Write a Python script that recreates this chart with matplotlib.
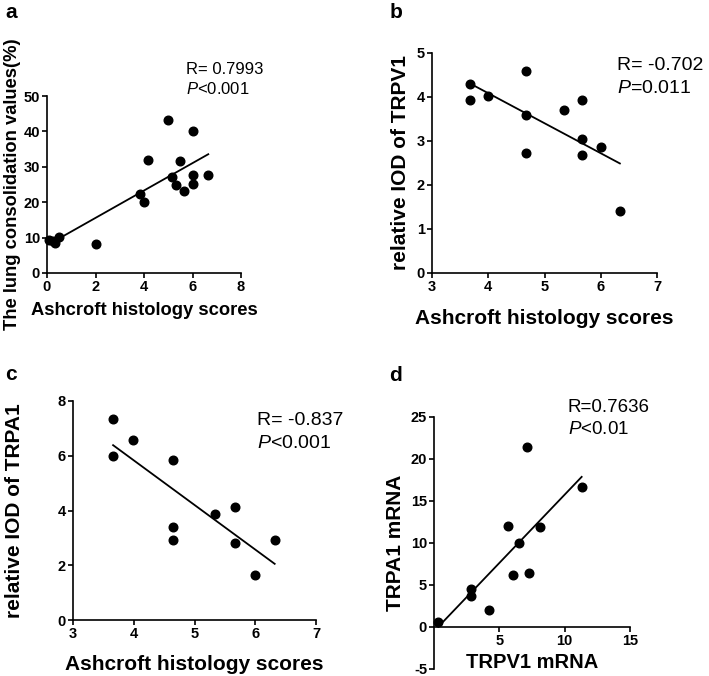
import numpy as np
import matplotlib
matplotlib.use("Agg")
import matplotlib.pyplot as plt

plt.rcParams['font.family'] = ['Liberation Sans', 'DejaVu Sans']
plt.rcParams['mathtext.fontset'] = 'custom'
plt.rcParams['mathtext.rm'] = 'Liberation Sans'
plt.rcParams['mathtext.it'] = 'Liberation Sans:italic'
plt.rcParams['axes.unicode_minus'] = False

# panel a: Ashcroft score vs lung consolidation
a_x = [0.1, 0.25, 0.35, 0.5, 2.0, 3.85, 3.98, 4.15, 4.99, 5.15, 5.32, 5.5, 5.65, 6.0, 6.0, 6.0, 6.65]
a_y = [9.4, 9.0, 8.4, 10.1, 8.3, 22.2, 20.0, 32.0, 43.1, 27.0, 25.0, 31.7, 23.3, 40.0, 27.8, 25.2, 27.6]

# panel b: Ashcroft score vs TRPV1 IOD
b_x = [3.67, 3.67, 4.0, 4.67, 4.67, 4.67, 5.34, 5.67, 5.67, 5.67, 6.0, 6.34]
b_y = [4.30, 3.94, 4.02, 4.58, 3.60, 2.73, 3.70, 3.94, 3.05, 2.69, 2.86, 1.41]

# panel c: Ashcroft score vs TRPA1 IOD
c_x = [3.66, 3.66, 3.99, 4.65, 4.65, 4.65, 5.33, 5.66, 5.66, 5.99, 6.32]
c_y = [7.34, 5.98, 6.59, 5.85, 3.41, 2.94, 3.87, 4.14, 2.81, 1.66, 2.91]

# panel d: TRPV1 vs TRPA1 mRNA
d_x = [0.33, 2.8, 2.86, 4.2, 5.64, 6.05, 6.53, 7.14, 7.27, 8.09, 11.3]
d_y = [0.64, 4.58, 3.70, 2.07, 12.02, 6.21, 9.99, 21.42, 6.37, 11.9, 16.68]

W, H = 709, 676
fig = plt.figure(figsize=(W / 100, H / 100), dpi=100)


def add_ax(x0, x1, ytop, ybot):
    return fig.add_axes([x0 / W, 1 - ybot / H, (x1 - x0) / W, (ybot - ytop) / H])


def style(ax, tick_size=10.5):
    for s in ['top', 'right']:
        ax.spines[s].set_visible(False)
    for s in ['left', 'bottom']:
        ax.spines[s].set_linewidth(1.2)
    ax.tick_params(width=1.2, length=3.5, labelsize=tick_size, pad=1.5)
    for lab in ax.get_xticklabels() + ax.get_yticklabels():
        lab.set_fontweight('bold')


def scatter_fit(ax, x, y):
    ax.plot(x, y, 'o', color='black', ms=6.2, clip_on=False, zorder=3)
    k, b = np.polyfit(x, y, 1)
    xx = np.array([min(x), max(x)])
    ax.plot(xx, k * xx + b, color='black', lw=1.3)


# a
ax = add_ax(47, 241, 96, 273)
scatter_fit(ax, a_x, a_y)
ax.set_xlim(0, 8)
ax.set_ylim(0, 50)
ax.set_xticks([0, 2, 4, 6, 8])
ax.set_yticks([0, 10, 20, 30, 40, 50])
style(ax)
ax.set_xlabel('Ashcroft histology scores', fontsize=13.2, fontweight='bold', labelpad=6)
ax.set_ylabel('The lung consolidation values(%)', fontsize=13.2, fontweight='bold', labelpad=2)
ax.text(5.73, 56.2, 'R= 0.7993', fontsize=12, clip_on=False)
ax.text(5.73, 50.6, r'$\it{P}$<0.001', fontsize=12, clip_on=False)

# b
ax = add_ax(432, 657, 53, 273)
scatter_fit(ax, b_x, b_y)
ax.set_xlim(3, 7)
ax.set_ylim(0, 5)
ax.set_xticks([3, 4, 5, 6, 7])
ax.set_yticks([0, 1, 2, 3, 4, 5])
style(ax)
ax.set_xlabel('Ashcroft histology scores', fontsize=15, fontweight='bold', labelpad=11)
ax.set_ylabel('relative IOD of TRPV1', fontsize=15, fontweight='bold', labelpad=5)
ax.text(6.29, 4.61, 'R= -0.702', fontsize=14, clip_on=False)
ax.text(6.29, 4.10, r'$\it{P}$=0.011', fontsize=14, clip_on=False)

# c
ax = add_ax(73, 316, 401, 620)
scatter_fit(ax, c_x, c_y)
ax.set_xlim(3, 7)
ax.set_ylim(0, 8)
ax.set_xticks([3, 4, 5, 6, 7])
ax.set_yticks([0, 2, 4, 6, 8])
style(ax)
ax.set_xlabel('Ashcroft histology scores', fontsize=15, fontweight='bold', labelpad=10)
ax.set_ylabel('relative IOD of TRPA1', fontsize=15, fontweight='bold', labelpad=24)
ax.text(6.03, 7.12, 'R= -0.837', fontsize=14, clip_on=False)
ax.text(6.03, 6.28, r'$\it{P}$<0.001', fontsize=14, clip_on=False)

# d
ax = add_ax(434, 630, 417, 669)
scatter_fit(ax, d_x, d_y)
ax.set_xlim(0, 15)
ax.set_ylim(-5, 25)
ax.spines['bottom'].set_position(('data', 0))
ax.set_xticks([5, 10, 15])
ax.set_yticks([-5, 0, 5, 10, 15, 20, 25])
style(ax)
ax.set_xlabel('TRPV1 mRNA', fontsize=14.5, fontweight='bold', labelpad=4)
ax.set_ylabel('TRPA1 mRNA', fontsize=15, fontweight='bold', labelpad=4)
ax.text(10.25, 25.6, 'R=0.7636', fontsize=13.5, clip_on=False)
ax.text(10.25, 22.98, r'$\it{P}$<0.01', fontsize=13.5, clip_on=False)

for letter, px, py in [('a', 5, 18), ('b', 390, 18), ('c', 5, 380), ('d', 389, 381)]:
    fig.text(px / W, 1 - py / H, letter, fontsize=15, fontweight='bold')

fig.savefig('out.png', dpi=100)
